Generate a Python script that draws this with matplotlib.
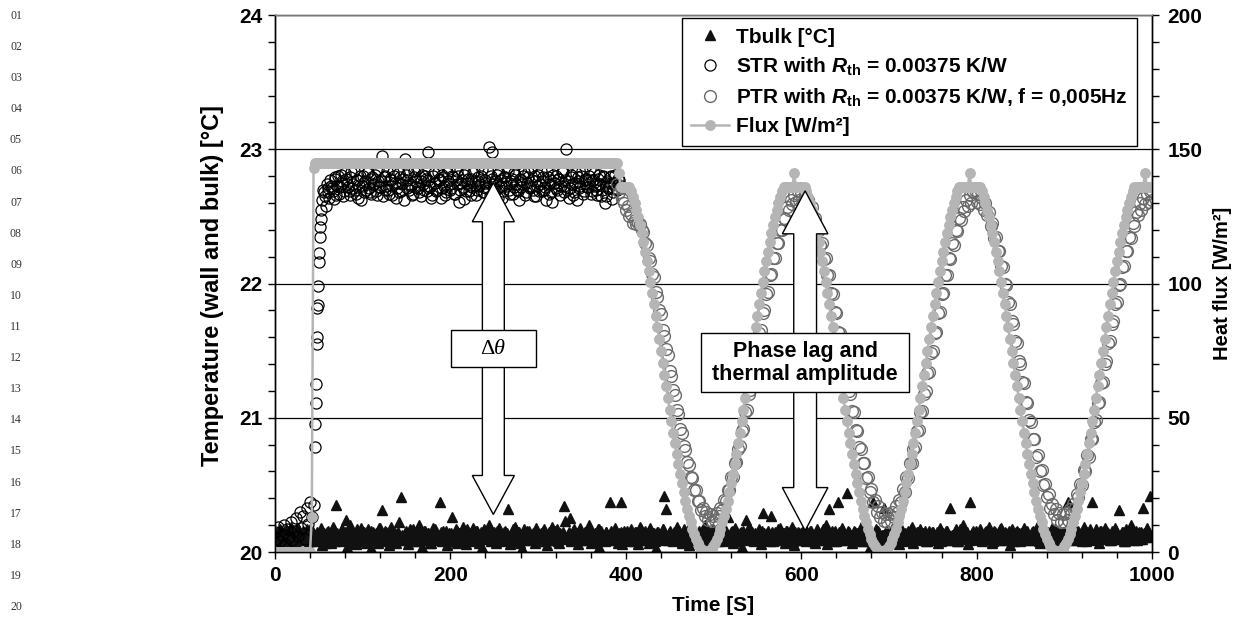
import numpy as np
import matplotlib
matplotlib.use('Agg')
import matplotlib.pyplot as plt
from matplotlib.patches import Polygon, Rectangle
from matplotlib.ticker import MultipleLocator

plt.rcParams['font.family'] = ['Liberation Sans', 'DejaVu Sans']
plt.rcParams['font.weight'] = 'bold'
plt.rcParams['axes.labelweight'] = 'bold'
plt.rcParams['mathtext.fontset'] = 'custom'
plt.rcParams['mathtext.rm'] = 'Liberation Sans:bold'
plt.rcParams['mathtext.it'] = 'Liberation Sans:italic:bold'
plt.rcParams['mathtext.bf'] = 'Liberation Sans:bold'

dt = 2  # sampling step of each logged list [s]

# bulk temperature, hundredths of a degree above 20 C; even seconds from t=0, odd seconds from t=1
tbulk_even = [
    12, 15, 9, 17, 11, 14, 8, 16, 13, 19, 10, 15, 7, 18, 12, 9, 16, 11, 14, 6, 17, 10, 13, 8, 15,
    11, 18, 5, 14, 9, 16, 12, 7, 19, 10, 35, 13, 8, 17, 11, 15, 4, 12, 20, 9, 14, 6, 16, 11, 18,
    10, 13, 7, 17, 12, 3, 15, 9, 14, 11, 18, 31, 8, 16, 12, 5, 19, 10, 13, 7, 15, 11, 41, 9, 14,
    12, 6, 17, 10, 15, 8, 13, 20, 11, 4, 16, 9, 14, 12, 7, 18, 10, 15, 13, 37, 8, 16, 11, 5, 14,
    9, 26, 12, 17, 7, 14, 10, 19, 13, 6, 15, 11, 8, 18, 12, 16, 9, 13, 4, 17, 10, 14, 20, 8, 12,
    15, 7, 11, 18, 9, 13, 16, 10, 32, 6, 14, 12, 19, 8, 15, 11, 3, 17, 13, 9, 16, 10, 14, 7, 18,
    11, 13, 8, 16, 12, 5, 15, 10, 19, 14, 9, 17, 7, 12, 15, 34, 11, 13, 25, 8, 16, 10, 14, 6, 18,
    12, 9, 15, 11, 20, 7, 14, 13, 10, 17, 4, 16, 12, 8, 15, 11, 37, 13, 9, 18, 10, 14, 37, 6, 16,
    11, 14, 8, 17, 12, 10, 15, 6, 19, 13, 9, 16, 11, 7, 18, 12, 14, 3, 15, 10, 13, 17, 42, 32, 9,
    16, 12, 8, 14, 19, 10, 13, 7, 17, 11, 15, 5, 12, 18, 9, 14, 11, 16, 8, 13, 20, 10, 15, 12, 6,
    17, 11, 14, 9, 13, 16, 8, 12, 26, 10, 15, 7, 18, 13, 11, 14, 4, 16, 9, 12, 19, 10, 15, 8, 13,
    11, 17, 6, 29, 14, 10, 16, 12, 27, 8, 15, 13, 9, 18, 11, 14, 7, 16, 12, 10, 19, 5, 13, 15, 9,
    14, 11, 18, 8, 13, 16, 10, 12, 7, 17, 14, 9, 15, 11, 20, 6, 32, 13, 10, 16, 8, 37, 12, 18, 11,
    9, 44, 15, 12, 7, 16, 10, 14, 13, 19, 8, 15, 11, 17, 4, 12, 37, 14, 9, 16, 11, 13, 33, 10, 15,
    12, 8, 17, 13, 10, 15, 6, 18, 11, 14, 9, 16, 12, 19, 7, 13, 15, 10, 17, 11, 14, 8, 12, 16, 9,
    15, 11, 13, 7, 18, 10, 14, 12, 16, 9, 33, 13, 11, 17, 8, 15, 12, 20, 10, 14, 6, 37, 13, 16, 11,
    10, 14, 17, 8, 12, 15, 11, 19, 13, 7, 16, 10, 14, 12, 18, 9, 15, 11, 13, 5, 17, 12, 10, 16, 14,
    8, 13, 18, 11, 15, 9, 12, 16, 10, 14, 20, 7, 13, 17, 11, 15, 12, 9, 18, 14, 10, 16, 6, 13, 12,
    15, 11, 37, 14, 9, 17, 12, 10, 16, 13, 8, 19, 12, 15, 11, 14, 37, 10, 17, 13, 7, 16, 12, 18, 11,
    14, 9, 16, 12, 18, 10, 31, 13, 15, 8, 17, 11, 14, 20, 12, 9, 16, 13, 10, 15, 33, 11, 18, 14, 42,
    13]
tbulk_odd = [
    13, 10, 16, 8, 14, 11, 17, 9, 12, 15, 7, 13, 10, 16, 12, 14, 9, 11, 17, 13, 8, 15, 10, 12, 14,
    9, 16, 12, 7, 15, 11, 13, 10, 17, 8, 14, 12, 16, 9, 11, 24, 13, 10, 15, 7, 12, 17, 9, 14, 11,
    15, 8, 13, 11, 16, 10, 12, 14, 7, 18, 11, 13, 9, 15, 12, 10, 16, 8, 14, 12, 22, 11, 13, 9, 16,
    10, 14, 12, 17, 8, 13, 11, 15, 9, 12, 16, 10, 14, 7, 13, 11, 17, 12, 9, 15, 10, 13, 16, 8, 12,
    14, 11, 9, 16, 12, 13, 8, 15, 10, 17, 12, 14, 9, 11, 16, 13, 7, 15, 12, 10, 14, 11, 18, 9, 13,
    12, 16, 10, 13, 8, 15, 11, 14, 12, 9, 17, 13, 10, 15, 7, 12, 14, 11, 16, 9, 13, 12, 10, 15, 11,
    8, 14, 12, 17, 10, 13, 9, 15, 11, 16, 12, 8, 14, 10, 13, 23, 11, 15, 9, 12, 17, 10, 14, 12, 13,
    11, 15, 9, 13, 16, 10, 12, 14, 8, 17, 11, 13, 10, 15, 12, 9, 16, 13, 11, 14, 7, 12, 15, 10, 13,
    16, 10, 13, 12, 8, 15, 11, 14, 17, 9, 12, 13, 10, 16, 11, 14, 8, 12, 15, 10, 13, 17, 9, 11, 14,
    12, 9, 15, 11, 13, 16, 10, 14, 8, 12, 17, 11, 13, 9, 15, 12, 10, 14, 16, 8, 13, 11, 15, 12, 10,
    13, 15, 8, 12, 14, 10, 17, 11, 9, 13, 16, 12, 10, 14, 8, 15, 11, 13, 24, 10, 12, 16, 9, 14, 11,
    10, 13, 16, 9, 12, 14, 11, 8, 15, 13, 10, 17, 12, 9, 14, 11, 16, 10, 13, 12, 8, 15, 11, 14, 12,
    15, 9, 12, 14, 10, 16, 8, 13, 11, 15, 12, 10, 17, 9, 14, 12, 11, 16, 8, 13, 10, 15, 12, 14, 9,
    12, 16, 10, 13, 9, 15, 11, 14, 12, 8, 16, 10, 13, 11, 15, 9, 12, 17, 10, 14, 11, 13, 9, 16, 12,
    10, 14, 12, 9, 16, 11, 13, 15, 8, 12, 14, 10, 17, 11, 13, 9, 15, 12, 10, 14, 16, 8, 13, 11, 15,
    13, 10, 15, 12, 8, 14, 11, 16, 9, 13, 12, 10, 15, 14, 8, 17, 11, 13, 10, 15, 12, 9, 14, 11, 16,
    12, 15, 9, 13, 11, 16, 10, 14, 12, 8, 15, 11, 13, 17, 9, 12, 14, 10, 16, 11, 13, 8, 15, 12, 10,
    14, 11, 13, 16, 9, 12, 15, 10, 13, 11, 8, 16, 12, 14, 10, 15, 9, 13, 11, 17, 12, 10, 14, 9, 15,
    11, 13, 10, 15, 12, 9, 16, 11, 14, 13, 10, 15, 8, 12, 17, 11, 13, 9, 14, 12, 16, 10, 13, 11, 15,
    13, 9, 14, 12, 16, 10, 13, 11, 15, 8, 12, 14, 10, 17, 11, 13, 9, 15, 12, 10, 14, 16, 11, 13, 12]

# STR wall temperature: before the step (every 2 s from t=0), the rise, the plateau
str_pre = [20.15, 20.10, 20.19, 20.08, 20.13, 20.20, 20.06, 20.17, 20.11, 20.22, 20.09, 20.16,
           20.25, 20.12, 20.30, 20.18, 20.27, 20.10, 20.33, 20.21, 20.37, 20.26, 20.35]
str_rise_t = [45.5, 46, 46.5, 47, 47.5, 48, 48.5, 49, 49.5, 50, 50.5, 51, 51.5, 52, 52.5]
str_rise = [20.78, 20.95, 21.11, 21.25, 21.55, 21.60, 21.82, 21.84, 21.98, 22.16, 22.23, 22.35,
            22.42, 22.48, 22.55]
# plateau, even seconds from t=54
str_plateau_even = [
    22.62, 22.68, 22.58, 22.71, 22.64, 22.73, 22.69, 22.78, 22.66, 22.80, 22.72, 22.76, 22.65, 22.82,
    22.74, 22.69, 22.79, 22.71, 22.84, 22.67, 22.77, 22.73, 22.62, 22.80, 22.75, 22.70, 22.83, 22.68,
    22.78, 22.74, 22.81, 22.66, 22.76, 22.72, 22.95, 22.79, 22.70, 22.84, 22.67, 22.77, 22.73, 22.80,
    22.64, 22.75, 22.82, 22.69, 22.78, 22.93, 22.71, 22.83, 22.74, 22.66, 22.79, 22.72, 22.85, 22.68,
    22.76, 22.81, 22.70, 22.78, 22.98, 22.73, 22.64, 22.80, 22.75, 22.69, 22.83, 22.77, 22.71, 22.79,
    22.66, 22.82, 22.74, 22.70, 22.80, 22.67, 22.77, 22.84, 22.61, 22.75, 22.72, 22.81, 22.69, 22.78,
    22.73, 22.66, 22.82, 22.76, 22.70, 22.79, 22.74, 22.85, 22.68, 22.77, 22.72, 23.02, 22.80, 22.98,
    22.71, 22.76, 22.64, 22.82, 22.73, 22.69, 22.79, 22.75, 22.84, 22.67, 22.78, 22.72, 22.81, 22.70,
    22.62, 22.77, 22.74, 22.83, 22.68, 22.79, 22.73, 22.86, 22.70, 22.76, 22.65, 22.81, 22.74, 22.69,
    22.79, 22.72, 22.84, 22.67, 22.77, 22.61, 22.75, 22.80, 22.70, 22.78, 22.73, 22.83, 22.68, 23.00,
    22.76, 22.71, 22.81, 22.66, 22.75, 22.62, 22.79, 22.73, 22.84, 22.69, 22.77, 22.72, 22.80, 22.67,
    22.76, 22.82, 22.70, 22.78, 22.74, 22.65, 22.80, 22.60, 22.75, 22.71, 22.79, 22.63, 22.74, 22.81,
    22.70, 22.77, 22.73]
# plateau, odd seconds from t=55
str_plateau_odd = [
    22.70, 22.65, 22.74, 22.68, 22.77, 22.71, 22.63, 22.79, 22.73, 22.67,
    22.81, 22.75, 22.69, 22.78, 22.72, 22.66, 22.83, 22.74, 22.70, 22.77,
    22.64, 22.80, 22.73, 22.68, 22.76, 22.82, 22.71, 22.67, 22.79, 22.74,
    22.69, 22.85, 22.72, 22.76, 22.65, 22.80, 22.73, 22.70, 22.78, 22.66,
    22.83, 22.75, 22.71, 22.68, 22.79, 22.74, 22.62, 22.81, 22.77, 22.70,
    22.73, 22.67, 22.84, 22.76, 22.71, 22.79, 22.65, 22.74, 22.80, 22.69,
    22.77, 22.72, 22.66, 22.82, 22.75, 22.70, 22.78, 22.64, 22.81, 22.73,
    22.68, 22.76, 22.85, 22.71, 22.79, 22.67, 22.74, 22.80, 22.70, 22.77,
    22.63, 22.82, 22.75, 22.69, 22.78, 22.72, 22.84, 22.66, 22.76, 22.73,
    22.80, 22.68, 22.75, 22.71, 22.83, 22.65, 22.78, 22.74, 22.69, 22.81,
    22.72, 22.77, 22.64, 22.79, 22.73, 22.86, 22.70, 22.76, 22.67, 22.82,
    22.74, 22.69, 22.78, 22.72, 22.80, 22.66, 22.75, 22.83, 22.71, 22.77,
    22.65, 22.80, 22.73, 22.69, 22.84, 22.76, 22.70, 22.62, 22.79, 22.74,
    22.68, 22.81, 22.75, 22.71, 22.78, 22.66, 22.83, 22.73, 22.77, 22.70,
    22.64, 22.79, 22.74, 22.68, 22.82, 22.76, 22.71, 22.80, 22.67, 22.75,
    22.78, 22.72, 22.85, 22.69, 22.77, 22.73, 22.66, 22.81, 22.74, 22.70,
    22.79, 22.65, 22.76, 22.72, 22.80, 22.68, 22.75, 22.71, 22.78, 22.73]

# PTR wall temperature, every 2 s from t=390
ptr = [
    22.74, 22.68, 22.71, 22.63,
    22.60, 22.55, 22.58, 22.50, 22.52, 22.45, 22.47, 22.44, 22.45, 22.44, 22.40, 22.38, 22.30, 22.29,
    22.19, 22.17, 22.07, 22.05, 21.94, 21.90, 21.80, 21.77, 21.65, 21.61, 21.51, 21.47, 21.35, 21.31,
    21.21, 21.17, 21.06, 21.03, 20.92, 20.89, 20.79, 20.76, 20.67, 20.65, 20.56, 20.55, 20.46, 20.46,
    20.38, 20.38, 20.31, 20.33, 20.27, 20.30, 20.24, 20.28, 20.23,
    20.27, 20.24, 20.29, 20.27, 20.33, 20.31, 20.39, 20.38, 20.46, 20.46, 20.56, 20.56, 20.66, 20.67,
    20.77, 20.79, 20.90, 20.92, 21.04, 21.06, 21.18, 21.21, 21.33, 21.35, 21.48, 21.51, 21.63, 21.65,
    21.78, 21.80, 21.92, 21.94, 22.06, 22.07, 22.19, 22.19, 22.30, 22.30, 22.40, 22.40, 22.49, 22.48,
    22.57, 22.55, 22.62, 22.59, 22.66, 22.61, 22.69,
    22.62, 22.68, 22.60, 22.66, 22.58, 22.62, 22.54, 22.57, 22.47, 22.49, 22.39, 22.40, 22.29, 22.30,
    22.18, 22.19, 22.06, 22.06, 21.93, 21.92, 21.79, 21.78, 21.64, 21.63, 21.50, 21.48, 21.34, 21.33,
    21.20, 21.18, 21.05, 21.04, 20.91, 20.90, 20.78, 20.77, 20.66, 20.66, 20.55, 20.56, 20.45, 20.47,
    20.37, 20.39, 20.30, 20.34, 20.26, 20.30, 20.23, 20.28, 20.22,
    20.28, 20.23, 20.30, 20.26, 20.34, 20.30, 20.39, 20.37, 20.47, 20.45, 20.56, 20.55, 20.66, 20.66,
    20.77, 20.78, 20.90, 20.91, 21.04, 21.05, 21.18, 21.20, 21.33, 21.34, 21.48, 21.50, 21.63, 21.64,
    21.78, 21.79, 21.92, 21.93, 22.06, 22.06, 22.19, 22.18, 22.30, 22.29, 22.40, 22.39, 22.49, 22.47,
    22.57, 22.54, 22.62, 22.58, 22.66, 22.60, 22.68,
    22.70, 22.61, 22.67, 22.59, 22.64, 22.55, 22.60, 22.51, 22.53, 22.43, 22.45, 22.34, 22.35, 22.24,
    22.24, 22.13, 22.12, 22.00, 21.99, 21.86, 21.85, 21.72, 21.70, 21.57, 21.56, 21.42, 21.40, 21.27,
    21.26, 21.12, 21.11, 20.98, 20.97, 20.84, 20.84, 20.71, 20.72, 20.60, 20.61, 20.50, 20.51, 20.41,
    20.43, 20.33, 20.36, 20.28, 20.32, 20.24, 20.29, 20.22, 20.28,
    20.22, 20.29, 20.24, 20.32, 20.28, 20.36, 20.33, 20.43, 20.41, 20.51, 20.50, 20.61, 20.60, 20.72,
    20.71, 20.84, 20.84, 20.97, 20.98, 21.11, 21.12, 21.26, 21.27, 21.40, 21.42, 21.56, 21.57, 21.70,
    21.72, 21.85, 21.86, 21.99, 22.00, 22.12, 22.13, 22.24, 22.24, 22.35, 22.34, 22.45, 22.43, 22.53,
    22.51, 22.60, 22.55, 22.64, 22.59, 22.67, 22.61,
    22.69, 22.62]

# heat flux [W/m2], every 2 s from t=0: off, step, steady level, then the periodic part from t=392
flux_off = [0.0] * 21
flux_step = [13.0, 143.0]
flux_steady = [145.0] * 173
flux_periodic = [
    141, 136, 136, 136, 136, 136, 136, 134.3, 132.3, 130.0, 127.5, 124.8, 121.9, 118.8, 115.4, 111.9,
    108.3, 104.5, 100.5, 96.5, 92.3, 88.0, 83.7, 79.3, 74.9, 70.5, 66.1, 61.7, 57.3, 53.0, 48.7, 44.5,
    40.5, 36.5, 32.7, 29.1, 25.6, 22.2, 19.1, 16.2, 13.5, 11.0, 8.7, 6.7, 4.9, 3.4, 2.2, 1.3, 0.6, 0.1,
    0.0, 0.1, 0.6, 1.3, 2.2, 3.4, 4.9, 6.7, 8.7, 11.0, 13.5, 16.2, 19.1, 22.2, 25.6, 29.1, 32.7, 36.5,
    40.5, 44.5, 48.7, 53.0, 57.3, 61.7, 66.1, 70.5, 74.9, 79.3, 83.7, 88.0, 92.3, 96.5, 100.5, 104.5,
    108.3, 111.9, 115.4, 118.8, 121.9, 124.8, 127.5, 130.0, 132.3, 134.3, 136, 136, 136, 136, 136, 136,
    141, 136, 136, 136, 136, 136, 136, 134.3, 132.3, 130.0, 127.5, 124.8, 121.9, 118.8, 115.4, 111.9,
    108.3, 104.5, 100.5, 96.5, 92.3, 88.0, 83.7, 79.3, 74.9, 70.5, 66.1, 61.7, 57.3, 53.0, 48.7, 44.5,
    40.5, 36.5, 32.7, 29.1, 25.6, 22.2, 19.1, 16.2, 13.5, 11.0, 8.7, 6.7, 4.9, 3.4, 2.2, 1.3, 0.6, 0.1,
    0.0, 0.1, 0.6, 1.3, 2.2, 3.4, 4.9, 6.7, 8.7, 11.0, 13.5, 16.2, 19.1, 22.2, 25.6, 29.1, 32.7, 36.5,
    40.5, 44.5, 48.7, 53.0, 57.3, 61.7, 66.1, 70.5, 74.9, 79.3, 83.7, 88.0, 92.3, 96.5, 100.5, 104.5,
    108.3, 111.9, 115.4, 118.8, 121.9, 124.8, 127.5, 130.0, 132.3, 134.3, 136, 136, 136, 136, 136, 136,
    141, 136, 136, 136, 136, 136, 136, 134.3, 132.3, 130.0, 127.5, 124.8, 121.9, 118.8, 115.4, 111.9,
    108.3, 104.5, 100.5, 96.5, 92.3, 88.0, 83.7, 79.3, 74.9, 70.5, 66.1, 61.7, 57.3, 53.0, 48.7, 44.5,
    40.5, 36.5, 32.7, 29.1, 25.6, 22.2, 19.1, 16.2, 13.5, 11.0, 8.7, 6.7, 4.9, 3.4, 2.2, 1.3, 0.6, 0.1,
    0.0, 0.1, 0.6, 1.3, 2.2, 3.4, 4.9, 6.7, 8.7, 11.0, 13.5, 16.2, 19.1, 22.2, 25.6, 29.1, 32.7, 36.5,
    40.5, 44.5, 48.7, 53.0, 57.3, 61.7, 66.1, 70.5, 74.9, 79.3, 83.7, 88.0, 92.3, 96.5, 100.5, 104.5,
    108.3, 111.9, 115.4, 118.8, 121.9, 124.8, 127.5, 130.0, 132.3, 134.3, 136, 136, 136, 136, 136, 136,
    141, 136, 136, 136, 136]

labels = ['Tbulk [°C]',
          r'STR with $R_{\mathrm{th}}$ = 0.00375 K/W',
          r'PTR with $R_{\mathrm{th}}$ = 0.00375 K/W, f = 0,005Hz',
          'Flux [W/m²]']

# ---- time axes of each series
t_bulk = np.concatenate([dt * np.arange(len(tbulk_even)), 1 + dt * np.arange(len(tbulk_odd))])
tbulk = 20 + np.array(tbulk_even + tbulk_odd) / 100.0
t_str = np.concatenate([dt * np.arange(len(str_pre)), str_rise_t,
                        54 + dt * np.arange(len(str_plateau_even)),
                        55 + dt * np.arange(len(str_plateau_odd))])
str_temp = np.array(str_pre + str_rise + str_plateau_even + str_plateau_odd)
t_ptr = 390 + dt * np.arange(len(ptr))
flux = np.array(flux_off + flux_step + flux_steady + flux_periodic, dtype=float)
t_flux = dt * np.arange(len(flux))

fig = plt.figure(figsize=(12.43, 6.28), dpi=100)
ax = fig.add_axes([0.2212, 0.1210, 0.7056, 0.8551])
ax2 = ax.twinx()

ax.set_xlim(0, 1000)
ax.set_ylim(20, 24)
ax2.set_ylim(0, 200)

ax.set_axisbelow(True)
ax.yaxis.grid(True, which='major', color='black', lw=0.9)

h1, = ax.plot(t_bulk, tbulk, ls='none', marker='^', ms=7, color='#111111', mec='#111111', zorder=2)
h2, = ax.plot(t_str, str_temp, ls='none', marker='o', ms=8, mfc='none', mec='black', mew=0.9, zorder=3)
h3, = ax.plot(t_ptr, ptr, ls='none', marker='o', ms=8.5, mfc='none', mec='#6a6a6a', mew=1.0, zorder=3)
h4, = ax2.plot(t_flux, flux, color='#b5b5b5', lw=1.8, marker='o', ms=6.8, mfc='#b5b5b5',
               mec='#b5b5b5', zorder=2)

# ticks
ax.xaxis.set_major_locator(MultipleLocator(200))
ax.xaxis.set_minor_locator(MultipleLocator(40))
ax.yaxis.set_major_locator(MultipleLocator(1))
ax.yaxis.set_minor_locator(MultipleLocator(0.2))
ax2.yaxis.set_major_locator(MultipleLocator(50))
ax2.yaxis.set_minor_locator(MultipleLocator(10))
ax.tick_params(axis='x', which='major', direction='out', length=5, width=1, labelsize=15, pad=5)
ax.tick_params(axis='x', which='minor', direction='out', length=4, width=1)
ax.tick_params(axis='y', which='major', direction='out', length=5, width=1, labelsize=15, pad=4)
ax.tick_params(axis='y', which='minor', direction='out', length=5, width=1)
ax2.tick_params(axis='y', which='major', direction='out', length=5, width=1, labelsize=15, pad=6)
ax2.tick_params(axis='y', which='minor', direction='out', length=5, width=1)
for a in (ax, ax2):
    for s in a.spines.values():
        s.set_linewidth(1.0)
        s.set_color('black')
    a.spines['top'].set_color('#777777')

ax.set_xlabel('Time [S]', fontsize=15, fontweight='bold')
ax.set_ylabel('Temperature (wall and bulk) [°C]', fontsize=17, fontweight='bold', va='center')
ax2.set_ylabel('Heat flux [W/m²]', fontsize=14.5, fontweight='bold', va='center', rotation=90)
ax.yaxis.set_label_coords(-0.0707, 0.497)
ax2.yaxis.set_label_coords(1.0798, 0.50)
ax.xaxis.set_label_coords(0.5, -0.082)


def double_arrow(xc, y_bot, y_top, head_hw, shaft_hw, head_len):
    pts = [(xc, y_top), (xc + head_hw, y_top - head_len), (xc + shaft_hw, y_top - head_len),
           (xc + shaft_hw, y_bot + head_len), (xc + head_hw, y_bot + head_len), (xc, y_bot),
           (xc - head_hw, y_bot + head_len), (xc - shaft_hw, y_bot + head_len),
           (xc - shaft_hw, y_top - head_len), (xc - head_hw, y_top - head_len)]
    return Polygon(pts, closed=True, facecolor='white', edgecolor='black', lw=1.0,
                   transform=ax.transData, zorder=5)


ax2.add_patch(double_arrow(249, 20.28, 22.75, 24, 12.5, 0.29))
ax2.add_patch(Rectangle((201, 21.38), 96.5, 0.27, facecolor='white', edgecolor='black', lw=1.0,
                        transform=ax.transData, zorder=6))
# delta (upright) and theta (italic), thin serif as in the figure
ax2.text(250, 21.51, 'Δ', transform=ax.transData, ha='right', va='center', fontsize=16,
         family='Liberation Serif', fontweight='normal', zorder=7)
ax2.text(250, 21.51, 'θ', transform=ax.transData, ha='left', va='center', fontsize=16,
         family='Liberation Serif', fontweight='normal', fontstyle='italic', zorder=7)

ax2.add_patch(double_arrow(604.5, 20.16, 22.69, 26, 13, 0.32))
ax2.add_patch(Rectangle((486, 21.19), 237, 0.44, facecolor='white', edgecolor='black', lw=1.0,
                        transform=ax.transData, zorder=6))
ax2.text(604.5, 21.41, 'Phase lag and\nthermal amplitude', transform=ax.transData, ha='center',
         va='center', fontsize=15.5, fontweight='bold', linespacing=1.1, zorder=7)

leg = ax2.legend([h1, h2, h3, h4], labels, loc='upper right', bbox_to_anchor=(0.983, 0.994),
                 borderaxespad=0, fontsize=15, frameon=True, fancybox=False, framealpha=1,
                 edgecolor='black', handlelength=1.8, handletextpad=0.35, labelspacing=0.42,
                 borderpad=0.45)
leg.get_frame().set_linewidth(1.0)
leg.set_zorder(10)

# manuscript line numbers in the left margin
for i in range(1, 21):
    fig.text(16 / 1243, 1 - (16 + 31.1 * (i - 1)) / 628, f'{i:02d}', family='Liberation Serif',
             weight='normal', fontsize=8.5, color='#333333', ha='center', va='center')

fig.savefig('out.png', dpi=100)
